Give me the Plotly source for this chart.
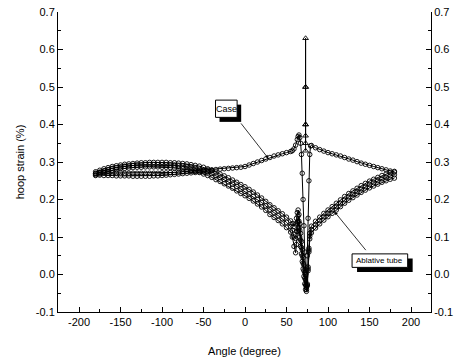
import plotly.graph_objects as go

# ---------------- data ----------------
ang_left = list(range(-180, 60, 5))          # -180 .. 55
ang_right = list(range(80, 185, 5))          # 80 .. 180
ang_case2 = list(range(-180, -35, 5))        # -180 .. -40

abl_outer_left = [0.274, 0.278, 0.282, 0.285, 0.288, 0.290, 0.292, 0.294, 0.295, 0.296,
                  0.297, 0.298, 0.298, 0.299, 0.299, 0.299, 0.299, 0.299, 0.298, 0.298,
                  0.297, 0.296, 0.295, 0.293, 0.291, 0.289, 0.286, 0.282, 0.278, 0.273,
                  0.268, 0.263, 0.258, 0.252, 0.246, 0.240, 0.234, 0.227, 0.220, 0.212,
                  0.204, 0.195, 0.186, 0.178, 0.170, 0.162, 0.153, 0.143]
abl_mid_left = [0.269, 0.273, 0.277, 0.280, 0.283, 0.285, 0.287, 0.289, 0.290, 0.291,
                0.292, 0.292, 0.293, 0.293, 0.293, 0.293, 0.293, 0.293, 0.292, 0.291,
                0.290, 0.289, 0.288, 0.286, 0.283, 0.281, 0.277, 0.273, 0.269, 0.263,
                0.258, 0.253, 0.247, 0.241, 0.235, 0.228, 0.222, 0.215, 0.208, 0.200,
                0.192, 0.183, 0.173, 0.165, 0.157, 0.149, 0.139, 0.128]
abl_inner_left = [0.264, 0.268, 0.272, 0.275, 0.278, 0.280, 0.282, 0.283, 0.284, 0.285,
                  0.286, 0.286, 0.287, 0.287, 0.287, 0.287, 0.286, 0.286, 0.285, 0.284,
                  0.283, 0.282, 0.280, 0.278, 0.275, 0.272, 0.268, 0.264, 0.259, 0.253,
                  0.248, 0.242, 0.236, 0.230, 0.223, 0.216, 0.210, 0.203, 0.196, 0.188,
                  0.180, 0.171, 0.160, 0.152, 0.144, 0.135, 0.125, 0.113]

abl_dip_ang = [57, 59, 61, 62, 63, 64, 65, 66, 67, 68, 69, 70, 71, 72, 73, 74, 75, 76, 77, 78]
abl_outer_dip = [0.136, 0.128, 0.135, 0.150, 0.165, 0.172, 0.160, 0.135, 0.110, 0.088,
                 0.066, 0.045, 0.025, 0.005, -0.015, -0.035, -0.025, 0.020, 0.070, 0.110]
abl_mid_dip = [0.118, 0.100, 0.096, 0.115, 0.140, 0.156, 0.142, 0.118, 0.092, 0.072,
               0.050, 0.030, 0.010, -0.010, -0.028, -0.040, -0.028, 0.015, 0.065, 0.102]
abl_inner_dip = [0.100, 0.075, 0.058, 0.080, 0.115, 0.140, 0.125, 0.100, 0.075, 0.055,
                 0.035, 0.015, -0.005, -0.025, -0.040, -0.045, -0.030, 0.010, 0.060, 0.095]

abl_outer_right = [0.129, 0.142, 0.153, 0.163, 0.172, 0.181, 0.190, 0.199, 0.208, 0.216,
                   0.223, 0.230, 0.237, 0.243, 0.249, 0.254, 0.259, 0.264, 0.268, 0.272, 0.275]
abl_mid_right = [0.120, 0.133, 0.144, 0.154, 0.163, 0.172, 0.181, 0.190, 0.199, 0.207,
                 0.214, 0.221, 0.228, 0.234, 0.240, 0.245, 0.250, 0.255, 0.259, 0.263, 0.266]
abl_inner_right = [0.111, 0.124, 0.135, 0.145, 0.154, 0.163, 0.172, 0.181, 0.190, 0.198,
                   0.205, 0.212, 0.219, 0.225, 0.231, 0.236, 0.241, 0.246, 0.250, 0.254, 0.257]

case_left = [0.270, 0.271, 0.271, 0.271, 0.271, 0.271, 0.271, 0.270, 0.270, 0.270,
             0.270, 0.270, 0.270, 0.270, 0.270, 0.270, 0.271, 0.271, 0.272, 0.272,
             0.273, 0.274, 0.275, 0.275, 0.276, 0.277, 0.278, 0.279, 0.279, 0.280,
             0.281, 0.282, 0.283, 0.284, 0.285, 0.286, 0.288, 0.292, 0.296, 0.300,
             0.304, 0.308, 0.312, 0.316, 0.319, 0.322, 0.325, 0.328]
case_dip_ang = [57, 59, 61, 63, 64, 65, 66, 67, 68, 69, 70, 71, 72, 73, 74, 75, 76, 77, 78, 79]
case_dip = [0.330, 0.335, 0.345, 0.360, 0.368, 0.372, 0.365, 0.350, 0.320, 0.270,
            0.200, 0.130, 0.060, 0.000, -0.030, 0.050, 0.150, 0.250, 0.320, 0.343]
case_right = [0.344, 0.338, 0.333, 0.329, 0.325, 0.322, 0.319, 0.316, 0.312, 0.308,
              0.305, 0.301, 0.297, 0.294, 0.291, 0.288, 0.285, 0.282, 0.279, 0.276, 0.273]
case2_left = [0.266, 0.265, 0.264, 0.264, 0.264, 0.263, 0.263, 0.263, 0.263, 0.262,
              0.262, 0.262, 0.262, 0.262, 0.263, 0.263, 0.264, 0.265, 0.266, 0.267,
              0.268, 0.269, 0.270, 0.271, 0.272, 0.274, 0.275, 0.276, 0.277]

spike_ang = [73, 73, 73, 73, 73, 73, 73, 73]
spike_val = [0.33, 0.40, 0.50, 0.63, 0.50, 0.40, 0.37, 0.35]

x_ticks = [-200, -150, -100, -50, 0, 50, 100, 150, 200]
x_ticktext = ["-200", "-150", "-100", "-50", "0", "50", "100", "150", "200"]
y_ticks = [-0.1, 0.0, 0.1, 0.2, 0.3, 0.4, 0.5, 0.6, 0.7]
y_ticktext = ["-0.1", "0.0", "0.1", "0.2", "0.3", "0.4", "0.5", "0.6", "0.7"]

FONT = "Arial, 'Liberation Sans', sans-serif"

fig = go.Figure()

def band(xs, ys, symbol="circle-open", size=4.5):
    fig.add_trace(go.Scatter(
        x=xs, y=ys, mode="lines+markers",
        line=dict(color="black", width=1),
        marker=dict(symbol=symbol, size=size, color="black", line=dict(width=0.9)),
        showlegend=False, hoverinfo="skip"))

band(ang_left + abl_dip_ang + ang_right, abl_outer_left + abl_outer_dip + abl_outer_right)
band(ang_left + abl_dip_ang + ang_right, abl_mid_left + abl_mid_dip + abl_mid_right)
band(ang_left + abl_dip_ang + ang_right, abl_inner_left + abl_inner_dip + abl_inner_right)
band(ang_left + case_dip_ang + ang_right, case_left + case_dip + case_right)
band(ang_case2, case2_left)
band(spike_ang, spike_val, symbol="triangle-up-open", size=5)

# invisible trace to anchor right axis
fig.add_trace(go.Scatter(x=[0], y=[0.3], yaxis="y2", mode="markers",
                         marker=dict(opacity=0), showlegend=False, hoverinfo="skip"))

axis_common = dict(showline=True, linecolor="black", linewidth=1, showgrid=False,
                   zeroline=False, ticks="inside", ticklen=5, tickwidth=1, automargin=False,
                   tickcolor="black", tickfont=dict(family=FONT, size=11, color="black"))

fig.update_layout(
    width=459, height=364,
    margin=dict(l=58, r=28, t=12, b=52),
    paper_bgcolor="white", plot_bgcolor="white",
    font=dict(family=FONT, color="black"),
    xaxis=dict(range=[-225.3, 224.1], tickvals=x_ticks, ticktext=x_ticktext,
               minor=dict(ticks="inside", ticklen=3, dtick=25, tick0=0, tickcolor="black"),
               title=dict(text="Angle (degree)", font=dict(family=FONT, size=11), standoff=20),
               **axis_common),
    yaxis=dict(range=[-0.1, 0.7], tickvals=y_ticks, ticktext=y_ticktext,
               minor=dict(ticks="inside", ticklen=3, dtick=0.05, tick0=0, tickcolor="black"),
               title=dict(text="hoop strain (%)", font=dict(family=FONT, size=11), standoff=8),
               **axis_common),
    yaxis2=dict(range=[-0.1, 0.7], overlaying="y", side="right", anchor="x",
                tickvals=y_ticks, ticktext=y_ticktext,
                minor=dict(ticks="inside", ticklen=3, dtick=0.05, tick0=0, tickcolor="black"),
                **axis_common),
)

# label boxes with drop shadows
fig.add_shape(type="rect", x0=-30.7, x1=-4.6, y0=0.407, y1=0.453,
              fillcolor="black", line=dict(width=0), layer="above")
fig.add_shape(type="rect", x0=-35.5, x1=-9.5, y0=0.419, y1=0.465,
              fillcolor="white", line=dict(color="black", width=1), layer="above")
fig.add_shape(type="rect", x0=135.0, x1=202.0, y0=0.007, y1=0.043,
              fillcolor="black", line=dict(width=0), layer="above")
fig.add_shape(type="rect", x0=129.0, x1=196.0, y0=0.019, y1=0.055,
              fillcolor="white", line=dict(color="black", width=1), layer="above")

fig.add_annotation(x=-22.5, y=0.442, text="Case", showarrow=False,
                   font=dict(family=FONT, size=9, color="black"))
fig.add_annotation(x=162.5, y=0.037, text="Ablative tube", showarrow=False,
                   font=dict(family=FONT, size=8, color="black"))

# arrows
fig.add_annotation(x=28, y=0.31, ax=-6.2, ay=0.407, axref="x", ayref="y", text="",
                   showarrow=True, arrowhead=2, arrowsize=0.8, arrowwidth=0.8, arrowcolor="black")
fig.add_annotation(x=108, y=0.167, ax=147, ay=0.061, axref="x", ayref="y", text="",
                   showarrow=True, arrowhead=2, arrowsize=0.8, arrowwidth=0.8, arrowcolor="black")

fig.write_html("out.html")
